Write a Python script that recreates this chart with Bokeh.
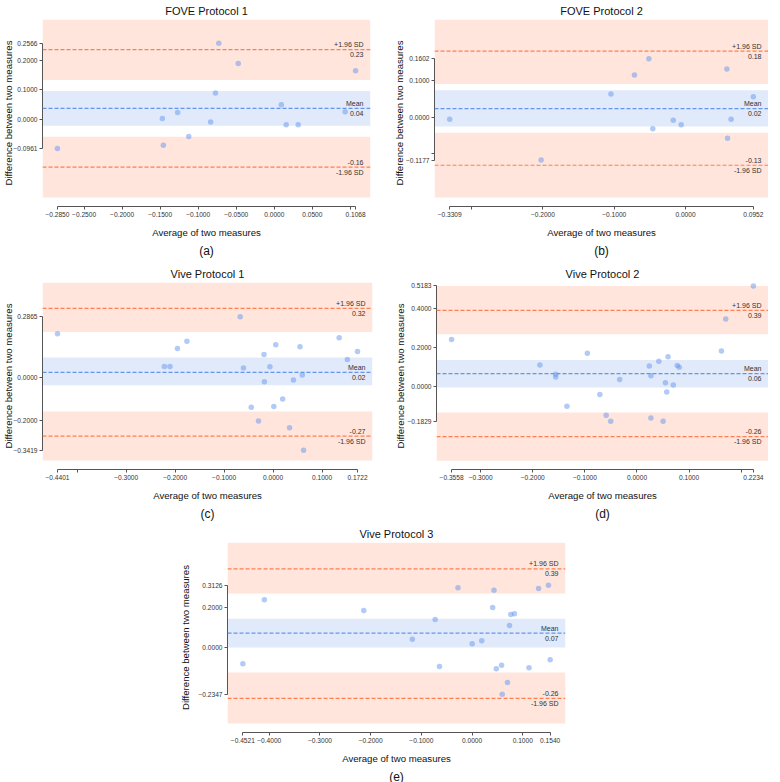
from bokeh.plotting import figure
from bokeh.models import (Range1d, FixedTicker, CustomJSTickFormatter, BoxAnnotation,
                          Span, Label, Title, Spacer)
from bokeh.layouts import row, column
from bokeh.embed import file_html
from bokeh.resources import INLINE

FONT = "Liberation Sans"
XLABEL = "Average of two measures"
YLABEL = "Difference between two measures"

# ---------------- (a) FOVE Protocol 1 ----------------
a_title = "FOVE Protocol 1"
a_x = [-0.2850, -0.1471, -0.1458, -0.1270, -0.1124, -0.0837, -0.0773, -0.0730,
       -0.0474, 0.0092, 0.0156, 0.0314, 0.0931, 0.1068]
a_y = [-0.0961, 0.0045, -0.0859, 0.0246, -0.0558, -0.0078, 0.0893, 0.2566,
       0.1886, 0.0502, -0.0167, -0.0167, 0.0268, 0.1641]
a_mean, a_upper, a_lower = 0.038, 0.235, -0.159
a_mean_ci = (-0.020, 0.096)
a_upper_ci = (0.133, 0.336)
a_lower_ci = (-0.261, -0.057)
a_xticks = [-0.2850, -0.25, -0.20, -0.15, -0.10, -0.05, 0.0, 0.05, 0.1068]
a_xticks_blank = [0.10]
a_yticks = [-0.0961, 0.0, 0.1, 0.2, 0.2566]
a_yticks_blank = []

# ---------------- (b) FOVE Protocol 2 ----------------
b_title = "FOVE Protocol 2"
b_x = [-0.3309, -0.2026, -0.1046, -0.0716, -0.0514, -0.0459, -0.0171, -0.0061,
       0.0581, 0.0590, 0.0640, 0.0952]
b_y = [-0.0059, -0.1177, 0.0636, 0.1151, 0.1602, -0.0320, -0.0086, -0.0212,
       0.1322, -0.0582, -0.0059, 0.0555]
b_mean, b_upper, b_lower = 0.023, 0.181, -0.132
b_mean_ci = (-0.0257, 0.0736)
b_upper_ci = (0.0907, 0.2676)
b_lower_ci = (-0.2207, -0.0429)
b_xticks = [-0.3309, -0.2, -0.1, 0.0, 0.0952]
b_xticks_blank = [-0.3]
b_yticks = [-0.1177, 0.0, 0.1, 0.1602]
b_yticks_blank = [-0.1]

# ---------------- (c) Vive Protocol 1 ----------------
c_title = "Vive Protocol 1"
c_x = [-0.4401, -0.2220, -0.2106, -0.1953, -0.1760, -0.0672, -0.0606, -0.0446,
       -0.0299, -0.0186, -0.0179, -0.0066, 0.0014, 0.0054, 0.0194, 0.0335,
       0.0415, 0.0548, 0.0595, 0.0621, 0.1348, 0.1515, 0.1722]
c_y = [0.2066, 0.0526, 0.0526, 0.1368, 0.1711, 0.2865, 0.0448, -0.1392,
       -0.2047, 0.1087, -0.0192, 0.0510, -0.1361, 0.1539, -0.1002, -0.2359,
       -0.0114, 0.1446, 0.0120, -0.3419, 0.1867, 0.0853, 0.1227]
c_mean, c_upper, c_lower = 0.0244, 0.3249, -0.2749
c_mean_ci = (-0.0363, 0.0947)
c_upper_ci = (0.2147, 0.4470)
c_lower_ci = (-0.3903, -0.1595)
c_xticks = [-0.4401, -0.3, -0.2, -0.1, 0.0, 0.1, 0.1722]
c_xticks_blank = [-0.4]
c_yticks = [-0.3419, -0.2, 0.0, 0.2865]
c_yticks_blank = []

# ---------------- (d) Vive Protocol 2 ----------------
d_title = "Vive Protocol 2"
d_x = [-0.3558, -0.1863, -0.1560, -0.1560, -0.1345, -0.0953, -0.0713, -0.0592,
       -0.0504, -0.0333, 0.0236, 0.0267, 0.0267, 0.0419, 0.0501, 0.0546,
       0.0571, 0.0596, 0.0697, 0.0773, 0.0811, 0.1621, 0.1703, 0.2234]
d_y = [0.2411, 0.1093, 0.0603, 0.0468, -0.1053, 0.1702, -0.0444, -0.1509,
       -0.1829, 0.0333, 0.1043, 0.0536, -0.1661, 0.1279, -0.1829, 0.0164,
       -0.0309, 0.1516, 0.0046, 0.1059, 0.0975, 0.1820, 0.3476, 0.5183]
d_mean, d_upper, d_lower = 0.064, 0.3915, -0.2624
d_mean_ci = (-0.0073, 0.1347)
d_upper_ci = (0.2682, 0.5183)
d_lower_ci = (-0.3874, -0.1374)
d_xticks = [-0.3558, -0.3, -0.2, -0.1, 0.0, 0.1, 0.2234]
d_xticks_blank = [0.2]
d_yticks = [-0.1829, 0.0, 0.2, 0.4, 0.5183]
d_yticks_blank = []

# ---------------- (e) Vive Protocol 3 ----------------
e_title = "Vive Protocol 3"
e_x = [-0.4521, -0.4097, -0.2136, -0.1178, -0.0728, -0.0643, -0.0278, 0.0002,
       0.0191, 0.0406, 0.0432, 0.0478, 0.0582, 0.0595, 0.0699, 0.0738,
       0.0764, 0.0836, 0.1123, 0.1312, 0.1507, 0.1540]
e_y = [-0.0823, 0.2389, 0.1854, 0.0415, 0.1402, -0.0958, 0.2992, 0.0181,
       0.0331, 0.2005, 0.2875, -0.1076, -0.0892, -0.2347, -0.1761, 0.1101,
       0.1654, 0.1687, -0.1025, 0.2958, 0.3126, -0.0623]
e_mean, e_upper, e_lower = 0.0716, 0.394, -0.256
e_mean_ci = (-0.0003, 0.1436)
e_upper_ci = (0.2708, 0.5269)
e_lower_ci = (-0.382, -0.1259)
e_xticks = [-0.4521, -0.4, -0.3, -0.2, -0.1, 0.0, 0.1, 0.1540]
e_xticks_blank = []
e_yticks = [-0.2347, 0.0, 0.2, 0.3126]
e_yticks_blank = []

MEAN_COLOR = "#6495ED"
LOA_COLOR = "#FF7F50"
AXIS_COLOR = "#555555"
TEXT_COLOR = "#333333"


def tick_label(v):
    s = f"{v:.4f}"
    return s.replace("-", "\u2212")


def make_formatter(ticks, blanks):
    all_t = list(ticks) + list(blanks)
    labels = [tick_label(t) for t in ticks] + ["" for _ in blanks]
    return CustomJSTickFormatter(args=dict(tvals=all_t, tlabs=labels), code="""
        for (let i = 0; i < tvals.length; i++) {
            if (Math.abs(tick - tvals[i]) < 1e-9) { return tlabs[i]; }
        }
        return "";
    """)


def make_panel(title, tag, xs, ys, mean, upper, lower, mean_ci, upper_ci, lower_ci,
               xt, xtb, yt, ytb, frame_w, frame_h, mbl, mbr, mbt, ylab_standoff):
    xspan = max(xs) - min(xs)
    x0 = min(xs) - 0.05 * xspan
    x1 = max(xs) + 0.05 * xspan
    yspan = upper_ci[1] - lower_ci[0]
    y0 = lower_ci[0] - 0.05 * yspan
    y1 = max(upper_ci[1], max(ys) + 0.02 * yspan)

    p = figure(frame_width=frame_w, frame_height=frame_h,
               x_range=Range1d(x0, x1), y_range=Range1d(y0, y1),
               output_backend="svg", toolbar_location=None,
               min_border_left=mbl, min_border_right=mbr,
               min_border_top=mbt, min_border_bottom=0,
               x_axis_label=XLABEL, y_axis_label=YLABEL)
    p.outline_line_color = None
    p.grid.visible = False
    p.background_fill_color = "white"
    p.border_fill_color = "white"

    p.title.text = title
    p.title.align = "center"
    p.title.text_font = FONT
    p.title.text_font_size = "11px"
    p.title.text_font_style = "normal"
    p.title.text_color = "#111111"
    p.title.standoff = 5

    # shaded confidence bands
    p.add_layout(BoxAnnotation(bottom=upper_ci[0], top=upper_ci[1], fill_color=LOA_COLOR,
                               fill_alpha=0.2, line_color=None, level="underlay"))
    p.add_layout(BoxAnnotation(bottom=lower_ci[0], top=lower_ci[1], fill_color=LOA_COLOR,
                               fill_alpha=0.2, line_color=None, level="underlay"))
    p.add_layout(BoxAnnotation(bottom=mean_ci[0], top=mean_ci[1], fill_color=MEAN_COLOR,
                               fill_alpha=0.2, line_color=None, level="underlay"))

    # lines
    p.add_layout(Span(location=upper, dimension="width", line_color=LOA_COLOR,
                      line_dash="4 2", line_width=1.2))
    p.add_layout(Span(location=lower, dimension="width", line_color=LOA_COLOR,
                      line_dash="4 2", line_width=1.2))
    p.add_layout(Span(location=mean, dimension="width", line_color=MEAN_COLOR,
                      line_dash="4 2", line_width=1.2))

    # points
    p.scatter(xs, ys, size=5.5, fill_color=MEAN_COLOR, fill_alpha=0.5, line_color=None)

    # line labels
    def lab(text, yv, above):
        p.add_layout(Label(x=x1, y=yv, x_offset=-7, y_offset=(5 if above else -5),
                           text=text, text_align="right", text_baseline="middle",
                           text_font=FONT, text_font_size="7px", text_color=TEXT_COLOR))
    lab("+1.96 SD", upper, True)
    lab(f"{upper:.2f}", upper, False)
    lab("Mean", mean, True)
    lab(f"{mean:.2f}", mean, False)
    lab(f"{lower:.2f}", lower, True)
    lab("-1.96 SD", lower, False)

    # axes
    for ax in (p.xaxis[0], p.yaxis[0]):
        ax.axis_line_color = AXIS_COLOR
        ax.axis_line_width = 1
        ax.major_tick_line_color = AXIS_COLOR
        ax.minor_tick_line_color = None
        ax.major_tick_out = 3
        ax.major_tick_in = 0
        ax.major_label_text_font = FONT
        ax.major_label_text_font_size = "6.6px"
        ax.major_label_text_color = TEXT_COLOR
        ax.major_label_standoff = 2
        ax.axis_label_text_font = FONT
        ax.axis_label_text_font_size = "9.6px"
        ax.axis_label_text_font_style = "normal"
        ax.axis_label_text_color = "#111111"
    p.xaxis[0].ticker = FixedTicker(ticks=list(xt) + list(xtb))
    p.xaxis[0].formatter = make_formatter(xt, xtb)
    p.yaxis[0].ticker = FixedTicker(ticks=list(yt) + list(ytb))
    p.yaxis[0].formatter = make_formatter(yt, ytb)
    p.xaxis[0].bounds = (min(xs), max(xs))
    p.yaxis[0].bounds = (min(ys), max(ys))
    p.xaxis[0].axis_label_standoff = 7
    p.yaxis[0].axis_label_standoff = ylab_standoff

    p.add_layout(Title(text=tag, align="center", text_font=FONT, text_font_size="12px",
                       text_font_style="normal", text_color="#111111", standoff=2), "below")
    return p


pa = make_panel(a_title, "(a)", a_x, a_y, a_mean, a_upper, a_lower, a_mean_ci, a_upper_ci,
                a_lower_ci, a_xticks, a_xticks_blank, a_yticks, a_yticks_blank,
                328, 187, 36, 2, 0, -4)
pb = make_panel(b_title, "(b)", b_x, b_y, b_mean, b_upper, b_lower, b_mean_ci, b_upper_ci,
                b_lower_ci, b_xticks, b_xticks_blank, b_yticks, b_yticks_blank,
                334, 187, 62, 0, 0, -2)
pc = make_panel(c_title, "(c)", c_x, c_y, c_mean, c_upper, c_lower, c_mean_ci, c_upper_ci,
                c_lower_ci, c_xticks, c_xticks_blank, c_yticks, c_yticks_blank,
                330, 187, 36, 2, 24, -4)
pd_ = make_panel(d_title, "(d)", d_x, d_y, d_mean, d_upper, d_lower, d_mean_ci, d_upper_ci,
                 d_lower_ci, d_xticks, d_xticks_blank, d_yticks, d_yticks_blank,
                 332, 187, 62, 0, 24, -2)
pe = make_panel(e_title, "(e)", e_x, e_y, e_mean, e_upper, e_lower, e_mean_ci, e_upper_ci,
                e_lower_ci, e_xticks, e_xticks_blank, e_yticks, e_yticks_blank,
                338, 190, 42, 2, 21, 4)

layout = column(row(pa, pb), row(pc, pd_), row(Spacer(width=177, height=10), pe))

open("out.html", "w").write(file_html(layout, INLINE))
